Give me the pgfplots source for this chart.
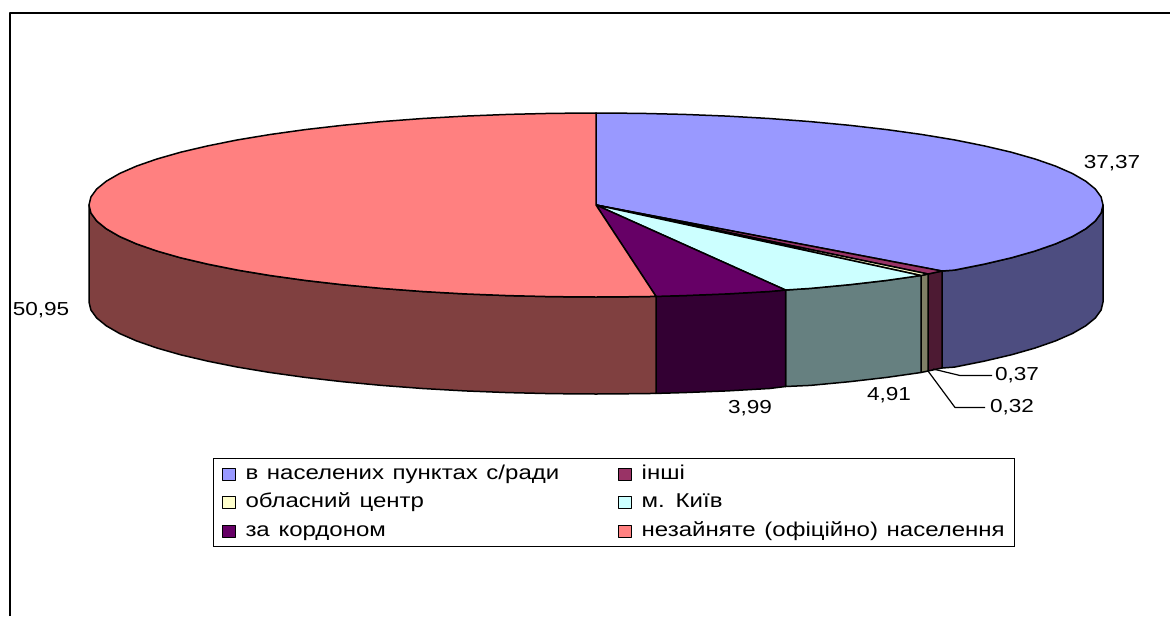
\documentclass[border=0pt]{standalone}
\usepackage{fontspec}
\setmainfont[FakeStretch=1.2,WordSpace=1.3]{Liberation Sans}
\usepackage{pgfplots}
\pgfplotsset{compat=1.18}
\definecolor{cblue}{HTML}{9999FF}\definecolor{sblue}{HTML}{4D4D80}
\definecolor{cwine}{HTML}{993366}\definecolor{swine}{HTML}{4D1A33}
\definecolor{ccream}{HTML}{FFFFCC}\definecolor{scream}{HTML}{808066}
\definecolor{ccyan}{HTML}{CCFFFF}\definecolor{scyan}{HTML}{668080}
\definecolor{cpurp}{HTML}{660066}\definecolor{spurp}{HTML}{330033}
\definecolor{csalm}{HTML}{FF8080}\definecolor{ssalm}{HTML}{804040}
\begin{document}
\begin{tikzpicture}
\path[use as bounding box] (0,0) rectangle (585pt,308pt);
\begin{axis}[
  at={(0,0)},anchor=south west,
  width=585pt,height=308pt,scale only axis,
  xmin=0,xmax=1170,ymin=0,ymax=616,y dir=reverse,
  axis lines=none,clip=false,
  font=\fontsize{9.4pt}{10pt}\selectfont,
  legend columns=2,
  legend cell align=left,
  legend image code/.code={\draw[#1,line width=0.7pt] (0pt,-3pt) rectangle (6.4pt,3pt);},
  legend style={at={(axis cs:213,458)},anchor=north west,draw=black,line width=0.7pt,
    inner xsep=4pt,inner ysep=2.45pt,
    font=\fontsize{10pt}{10pt}\selectfont,
    row sep=3.65pt,
    /tikz/column 1/.style={column sep=4pt},
    /tikz/column 2/.style={column sep=28.5pt},
    /tikz/column 3/.style={column sep=4pt},
    nodes={inner sep=0.8pt,anchor=west,text height=7pt,text depth=2pt}},
  every axis plot/.append style={line width=0.75pt,line join=round},
]
% frame
\addplot[black,line width=0.9pt,forget plot] coordinates {(10,616)(10,13)(1170,13)};
% side walls
\addplot[fill=sblue,draw=black,forget plot] coordinates {(1103,205)(1101.1,213)(1095.3,221)(1085.7,228.8)(1072.4,236.5)(1055.5,243.9)(1035.1,251)(1011.3,257.8)(984.4,264.1)(954.5,270.1)(942,271)(942,368)(954.5,367.1)(984.4,361.1)(1011.3,354.8)(1035.1,348)(1055.5,340.9)(1072.4,333.5)(1085.7,325.8)(1095.3,318)(1101.1,310)(1103,302)} -- cycle;
\addplot[fill=swine,draw=black,forget plot] coordinates {(942,271)(928,274)(928,371)(942,368)} -- cycle;
\addplot[fill=scream,draw=black,forget plot] coordinates {(928,274)(921,275.5)(921,372.5)(928,371)} -- cycle;
\addplot[fill=scyan,draw=black,forget plot] coordinates {(921,275.5)(886.8,280.4)(849.5,284.7)(810.3,288.4)(785.5,290)(785.5,386.5)(810.3,385.4)(849.5,381.7)(886.8,377.4)(921,372.5)} -- cycle;
\addplot[fill=spurp,draw=black,forget plot] coordinates {(785.5,290)(769.4,291.5)(727.2,293.9)(684,295.6)(656,296.4)(656,393.4)(684,392.6)(727.2,390.9)(769.4,388.5)(785.5,386.5)} -- cycle;
\addplot[fill=ssalm,draw=black,forget plot] coordinates {(656,296.4)(640.2,296.65)(596,297)(551.8,296.65)(508,295.6)(464.8,293.9)(422.6,291.5)(381.7,288.4)(342.5,284.7)(305.2,280.4)(270.1,275.5)(237.5,270.1)(207.6,264.1)(180.7,257.8)(156.9,251)(136.5,243.9)(119.6,236.5)(106.3,228.8)(96.7,221)(90.9,213)(89,205)(89,302)(90.9,310)(96.7,318)(106.3,325.8)(119.6,333.5)(136.5,340.9)(156.9,348)(180.7,354.8)(207.6,361.1)(237.5,367.1)(270.1,372.5)(305.2,377.4)(342.5,381.7)(381.7,385.4)(422.6,388.5)(464.8,390.9)(508,392.6)(551.8,393.65)(596,394)(640.2,393.65)(656,393.4)} -- cycle;
% top faces
\addplot[fill=cblue,draw=black] coordinates {(596,205)(596,113)(640.2,113.35)(684,114.4)(727.2,116.1)(769.4,118.5)(810.3,121.6)(849.5,125.3)(886.8,129.6)(921.9,134.5)(954.5,139.9)(984.4,145.9)(1011.3,152.2)(1035.1,159)(1055.5,166.1)(1072.4,173.5)(1085.7,181.2)(1095.3,189)(1101.1,197)(1103,205)(1101.1,213)(1095.3,221)(1085.7,228.8)(1072.4,236.5)(1055.5,243.9)(1035.1,251)(1011.3,257.8)(984.4,264.1)(954.5,270.1)(942,271)} -- cycle;
\addplot[fill=cwine,draw=black] coordinates {(596,205)(942,271)(928,274)} -- cycle;
\addplot[fill=ccream,draw=black] coordinates {(596,205)(928,274)(921,275.5)} -- cycle;
\addplot[fill=ccyan,draw=black] coordinates {(596,205)(921,275.5)(886.8,280.4)(849.5,284.7)(810.3,288.4)(785.5,290)} -- cycle;
\addplot[fill=cpurp,draw=black] coordinates {(596,205)(785.5,290)(769.4,291.5)(727.2,293.9)(684,295.6)(656,296.4)} -- cycle;
\addplot[fill=csalm,draw=black] coordinates {(596,205)(656,296.4)(640.2,296.65)(596,297)(551.8,296.65)(508,295.6)(464.8,293.9)(422.6,291.5)(381.7,288.4)(342.5,284.7)(305.2,280.4)(270.1,275.5)(237.5,270.1)(207.6,264.1)(180.7,257.8)(156.9,251)(136.5,243.9)(119.6,236.5)(106.3,228.8)(96.7,221)(90.9,213)(89,205)(90.9,197)(96.7,189)(106.3,181.2)(119.6,173.5)(136.5,166.1)(156.9,159)(180.7,152.2)(207.6,145.9)(237.5,139.9)(270.1,134.5)(305.2,129.6)(342.5,125.3)(381.7,121.6)(422.6,118.5)(464.8,116.1)(508,114.4)(551.8,113.35)(596,113)} -- cycle;
% leader lines
\addplot[black,line width=0.6pt,forget plot] coordinates {(933,369)(960,375.5)(992,375.5)};
\addplot[black,line width=0.6pt,forget plot] coordinates {(928,371)(955,407.5)(985,407.5)};
% value labels
\node at (axis cs:1112,163) {37,37};
\node at (axis cs:41,310) {50,95};
\node at (axis cs:750,408) {3,99};
\node at (axis cs:889,395) {4,91};
\node at (axis cs:1017,375) {0,37};
\node at (axis cs:1012,407) {0,32};
\legend{в населених пунктах с/ради,інші,обласний центр,м. Київ,за кордоном,незайняте (офіційно) населення\hspace{-2pt}}
\end{axis}
\end{tikzpicture}
\end{document}
